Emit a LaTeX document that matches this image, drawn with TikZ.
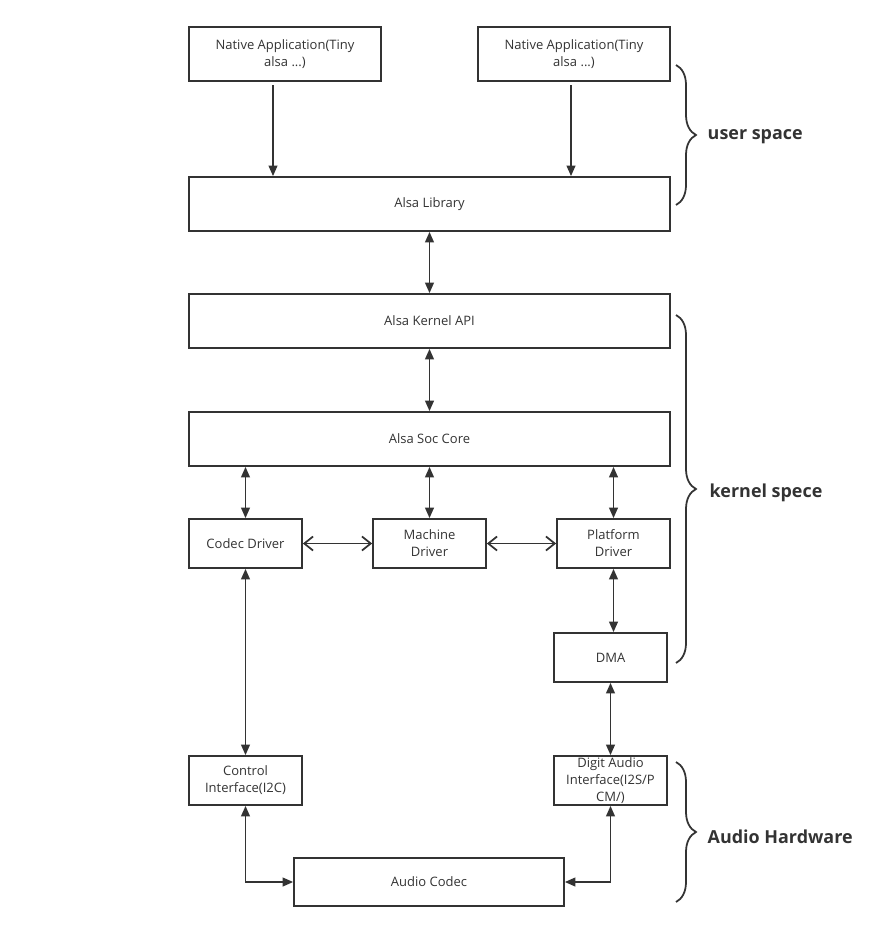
\documentclass[tikz,border=0pt]{standalone}
\usepackage{fontspec}
\setmainfont{Open Sans}
\usetikzlibrary{arrows.meta,decorations.pathreplacing}
\definecolor{ink}{HTML}{333333}

\begin{document}
\begin{tikzpicture}[x=0.02cm, y=-0.02cm, line width=1pt, color=ink,
  box/.style={draw, inner sep=0pt, align=center, font=\fontsize{7.4}{9.6}\selectfont},
  app/.style={box, minimum width=3.84cm, minimum height=1.08cm},
  layer/.style={box, minimum width=9.62cm, minimum height=1.08cm},
  unit/.style={box, minimum width=2.26cm, minimum height=0.98cm},
  arr/.style={-{Triangle[length=6pt,width=5pt]}},
  biarr/.style={{Triangle[length=6pt,width=5pt]}-{Triangle[length=6pt,width=5pt]}},
  openarr/.style={{Straight Barb[length=5pt,width=8pt]}-{Straight Barb[length=5pt,width=8pt]}},
  grp/.style={decorate, decoration={brace, amplitude=0.4cm}},
  grplabel/.style={anchor=west, font=\fontsize{10.2}{12}\selectfont\bfseries}]

\useasboundingbox (0,0) rectangle (888,939);

% user space
\node[app] (na1) at (285,54) {Native Application(Tiny\\alsa ...)};
\node[app] (na2) at (574,54) {Native Application(Tiny\\alsa ...)};
\node[layer] (lib) at (429.5,204) {Alsa Library};

% kernel space
\node[layer] (api) at (429.5,321) {Alsa Kernel API};
\node[layer] (soc) at (429.5,439) {Alsa Soc Core};
\node[unit] (codec) at (245.5,543.5) {Codec Driver};
\node[unit] (mach) at (429.5,543.5) {Machine\\Driver};
\node[unit] (plat) at (613.5,543.5) {Platform\\Driver};
\node[unit] (dma) at (610.5,657.5) {DMA};

% audio hardware
\node[unit] (ctrl) at (245.5,780.5) {Control\\Interface(I2C)};
\node[unit] (dai) at (610.5,780.5) {Digit Audio\\Interface(I2S/P\\CM/)};
\node[box, minimum width=5.4cm, minimum height=0.96cm] (audio) at (429,882) {Audio Codec};

% connectors
\draw[arr, shorten <=2pt] ([xshift=-0.24cm]na1.south) -- ([xshift=-0.24cm]na1.south |- lib.north);
\draw[arr, shorten <=2pt] ([xshift=-0.06cm]na2.south) -- ([xshift=-0.06cm]na2.south |- lib.north);
\draw[biarr] (lib) -- (api);
\draw[biarr] (api) -- (soc);
\draw[biarr] (soc.south -| codec.north) -- (codec.north);
\draw[biarr] (soc.south -| mach.north) -- (mach.north);
\draw[biarr] (soc.south -| plat.north) -- (plat.north);
\draw[openarr] (codec) -- (mach);
\draw[openarr] (mach) -- (plat);
\draw[biarr] (codec.south) -- (codec.south |- ctrl.north);
\draw[biarr] (plat.south) -- (plat.south |- dma.north);
\draw[biarr] (dma) -- (dai);
\draw[biarr] (ctrl.south) |- (audio.west);
\draw[biarr] (dai.south) |- (audio.east);

% braces
\draw[grp] (676,65) -- (676,205);
\node[grplabel] (lbluser) at (701,137) {user space};
\draw[grp] (676,315) -- (676,663);
\node[grplabel] (lblkern) at (703,493) {kernel spece};
\draw[grp] (676,762) -- (676,902);
\node[grplabel] (lblhw) at (701,837) {Audio Hardware};

\end{tikzpicture}
\end{document}
